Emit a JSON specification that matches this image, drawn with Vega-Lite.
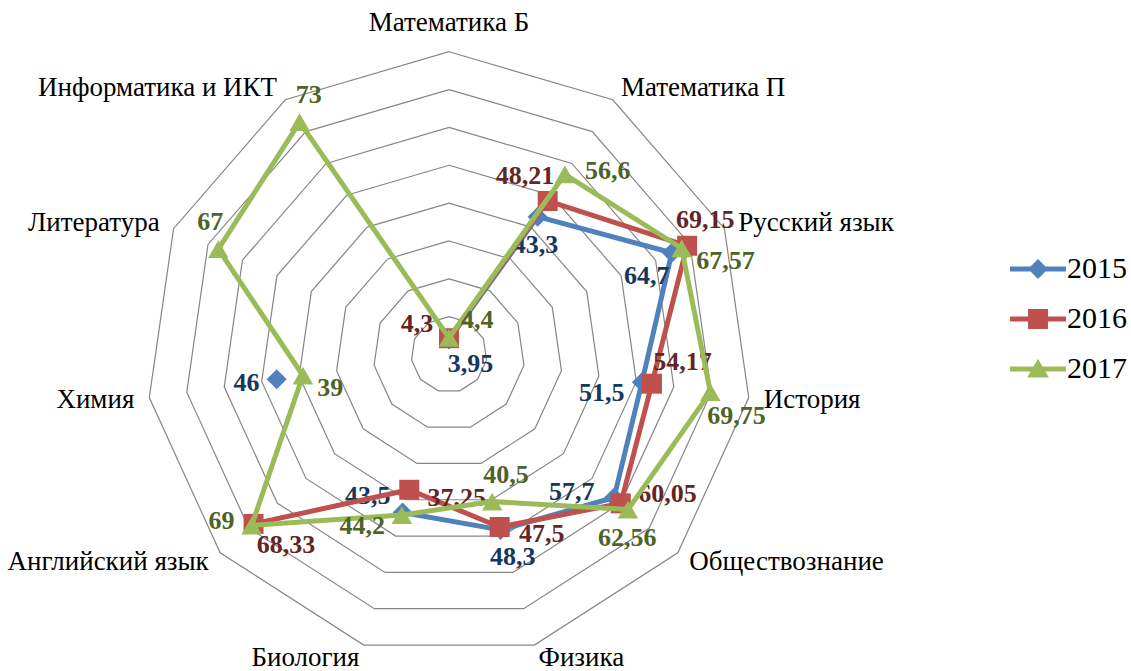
{
  "$schema": "https://vega.github.io/schema/vega-lite/v6.json",
  "width": 1131,
  "height": 671,
  "padding": 0,
  "autosize": {"type": "none"},
  "background": "#FFFFFF",
  "config": {"view": {"stroke": null}, "legend": {"labelFont": "Liberation Serif", "labelFontSize": 30, "labelColor": "#000000"}},
  "datasets": {
    "scores": [
      {"idx": 0, "subject": "Математика Б", "year": 2015, "value": 3.95},
      {"idx": 0, "subject": "Математика Б", "year": 2016, "value": 4.3},
      {"idx": 0, "subject": "Математика Б", "year": 2017, "value": 4.4},
      {"idx": 1, "subject": "Математика П", "year": 2015, "value": 43.3},
      {"idx": 1, "subject": "Математика П", "year": 2016, "value": 48.21},
      {"idx": 1, "subject": "Математика П", "year": 2017, "value": 56.6},
      {"idx": 2, "subject": "Русский язык", "year": 2015, "value": 64.7},
      {"idx": 2, "subject": "Русский язык", "year": 2016, "value": 69.15},
      {"idx": 2, "subject": "Русский язык", "year": 2017, "value": 67.57},
      {"idx": 3, "subject": "История", "year": 2015, "value": 51.5},
      {"idx": 3, "subject": "История", "year": 2016, "value": 54.17},
      {"idx": 3, "subject": "История", "year": 2017, "value": 69.75},
      {"idx": 4, "subject": "Обществознание", "year": 2015, "value": 57.7},
      {"idx": 4, "subject": "Обществознание", "year": 2016, "value": 60.05},
      {"idx": 4, "subject": "Обществознание", "year": 2017, "value": 62.56},
      {"idx": 5, "subject": "Физика", "year": 2015, "value": 48.3},
      {"idx": 5, "subject": "Физика", "year": 2016, "value": 47.5},
      {"idx": 5, "subject": "Физика", "year": 2017, "value": 40.5},
      {"idx": 6, "subject": "Биология", "year": 2015, "value": 43.5},
      {"idx": 6, "subject": "Биология", "year": 2016, "value": 37.25},
      {"idx": 6, "subject": "Биология", "year": 2017, "value": 44.2},
      {"idx": 7, "subject": "Английский язык", "year": 2015, "value": null},
      {"idx": 7, "subject": "Английский язык", "year": 2016, "value": 68.33},
      {"idx": 7, "subject": "Английский язык", "year": 2017, "value": 69},
      {"idx": 8, "subject": "Химия", "year": 2015, "value": 46},
      {"idx": 8, "subject": "Химия", "year": 2016, "value": null},
      {"idx": 8, "subject": "Химия", "year": 2017, "value": 39},
      {"idx": 9, "subject": "Литература", "year": 2015, "value": null},
      {"idx": 9, "subject": "Литература", "year": 2016, "value": null},
      {"idx": 9, "subject": "Литература", "year": 2017, "value": 67},
      {"idx": 10, "subject": "Информатика и ИКТ", "year": 2015, "value": null},
      {"idx": 10, "subject": "Информатика и ИКТ", "year": 2016, "value": null},
      {"idx": 10, "subject": "Информатика и ИКТ", "year": 2017, "value": 73}
    ],
    "rings": [
      {"r": 10, "idx": [0, 1, 2, 3, 4, 5, 6, 7, 8, 9, 10]},
      {"r": 20, "idx": [0, 1, 2, 3, 4, 5, 6, 7, 8, 9, 10]},
      {"r": 30, "idx": [0, 1, 2, 3, 4, 5, 6, 7, 8, 9, 10]},
      {"r": 40, "idx": [0, 1, 2, 3, 4, 5, 6, 7, 8, 9, 10]},
      {"r": 50, "idx": [0, 1, 2, 3, 4, 5, 6, 7, 8, 9, 10]},
      {"r": 60, "idx": [0, 1, 2, 3, 4, 5, 6, 7, 8, 9, 10]},
      {"r": 70, "idx": [0, 1, 2, 3, 4, 5, 6, 7, 8, 9, 10]},
      {"r": 80, "idx": [0, 1, 2, 3, 4, 5, 6, 7, 8, 9, 10]}
    ]
  },
  "layer": [
    {
      "data": {"name": "rings"},
      "transform": [
        {"flatten": ["idx"]},
        {"calculate": "datum.idx * 2 * PI / 11", "as": "theta"},
        {"calculate": "datum.r * sin(datum.theta)", "as": "px"},
        {"calculate": "datum.r * cos(datum.theta)", "as": "py"}
      ],
      "mark": {"type": "line", "interpolate": "linear-closed", "color": "#868686", "strokeWidth": 1.2},
      "encoding": {
        "x": {"field": "px", "type": "quantitative", "scale": {"domain": [-118.63, 180.18], "nice": false, "zero": false}, "axis": null},
        "y": {"field": "py", "type": "quantitative", "scale": {"domain": [-83.62, 93.66], "nice": false, "zero": false}, "axis": null},
        "detail": {"field": "r", "type": "nominal"},
        "order": {"field": "idx", "type": "quantitative"}
      }
    },
    {
      "data": {"name": "scores"},
      "transform": [
        {"filter": "datum.year == 2017"},
        {"calculate": "datum.idx * 2 * PI / 11", "as": "theta"},
        {"calculate": "84 * sin(datum.theta)", "as": "px"},
        {"calculate": "83.6 * cos(datum.theta)", "as": "py"},
        {"filter": "sin(datum.theta) > 0.1"}
      ],
      "mark": {"type": "text", "align": "left", "baseline": "middle", "font": "Liberation Serif", "fontSize": 27, "color": "#000000"},
      "encoding": {
        "x": {"field": "px", "type": "quantitative", "scale": {"domain": [-118.63, 180.18], "nice": false, "zero": false}, "axis": null},
        "y": {"field": "py", "type": "quantitative", "scale": {"domain": [-83.62, 93.66], "nice": false, "zero": false}, "axis": null},
        "text": {"field": "subject"}
      }
    },
    {
      "data": {"name": "scores"},
      "transform": [
        {"filter": "datum.year == 2017"},
        {"calculate": "datum.idx * 2 * PI / 11", "as": "theta"},
        {"calculate": "84 * sin(datum.theta)", "as": "px"},
        {"calculate": "83.6 * cos(datum.theta)", "as": "py"},
        {"filter": "sin(datum.theta) < -0.1"}
      ],
      "mark": {"type": "text", "align": "right", "baseline": "middle", "font": "Liberation Serif", "fontSize": 27, "color": "#000000"},
      "encoding": {
        "x": {"field": "px", "type": "quantitative", "scale": {"domain": [-118.63, 180.18], "nice": false, "zero": false}, "axis": null},
        "y": {"field": "py", "type": "quantitative", "scale": {"domain": [-83.62, 93.66], "nice": false, "zero": false}, "axis": null},
        "text": {"field": "subject"}
      }
    },
    {
      "data": {"name": "scores"},
      "transform": [
        {"filter": "datum.year == 2017 && datum.idx == 0"},
        {"calculate": "84 * sin(0)", "as": "px"},
        {"calculate": "84 * cos(0)", "as": "py"}
      ],
      "mark": {"type": "text", "align": "center", "baseline": "middle", "dy": -14, "font": "Liberation Serif", "fontSize": 27, "color": "#000000"},
      "encoding": {
        "x": {"field": "px", "type": "quantitative", "scale": {"domain": [-118.63, 180.18], "nice": false, "zero": false}, "axis": null},
        "y": {"field": "py", "type": "quantitative", "scale": {"domain": [-83.62, 93.66], "nice": false, "zero": false}, "axis": null},
        "text": {"field": "subject"}
      }
    },
    {
      "data": {"name": "scores"},
      "transform": [
        {"joinaggregate": [{"op": "max", "field": "value", "as": "vmax"}, {"op": "min", "field": "value", "as": "vmin"}], "groupby": ["idx"]},
        {"filter": "datum.year == 2015"},
        {"calculate": "datum.idx * 2 * PI / 11", "as": "theta"},
        {"calculate": "datum.value == null ? null : datum.value * sin(datum.theta)", "as": "px"},
        {"calculate": "datum.value == null ? null : datum.value * cos(datum.theta)", "as": "py"}
      ],
      "encoding": {
        "x": {"field": "px", "type": "quantitative", "scale": {"domain": [-118.63, 180.18], "nice": false, "zero": false}, "axis": null},
        "y": {"field": "py", "type": "quantitative", "scale": {"domain": [-83.62, 93.66], "nice": false, "zero": false}, "axis": null}
      },
      "layer": [
        {"mark": {"type": "line", "color": "#4F81BD", "strokeWidth": 5, "strokeJoin": "round", "strokeCap": "round"},
         "encoding": {"order": {"field": "idx", "type": "quantitative"}}},
        {"transform": [{"filter": "datum.value != null"}],
         "mark": {"type": "point", "shape": "diamond", "filled": true, "color": "#4F81BD", "size": 400, "opacity": 1}},
        {"transform": [
          {"filter": "datum.value != null"},
          {"calculate": "replace(toString(datum.value), '.', ',')", "as": "label"},
          {"calculate": "datum.theta + (datum.value == datum.vmax ? 0 : datum.value == datum.vmin ? 2.618 : 1.92)", "as": "phi"},
          {"calculate": "datum.px + sin(datum.phi) * (length(datum.label) * 6.3 + 18) / 3.785", "as": "lx"},
          {"calculate": "datum.py + cos(datum.phi) * 7.4", "as": "ly"}
         ],
         "mark": {"type": "text", "align": "center", "baseline": "middle", "font": "Liberation Serif", "fontWeight": "bold", "fontSize": 26, "color": "#17365D"},
         "encoding": {
           "x": {"field": "lx", "type": "quantitative", "scale": {"domain": [-118.63, 180.18], "nice": false, "zero": false}, "axis": null},
           "y": {"field": "ly", "type": "quantitative", "scale": {"domain": [-83.62, 93.66], "nice": false, "zero": false}, "axis": null},
           "text": {"field": "label"}
         }}
      ]
    },
    {
      "data": {"name": "scores"},
      "transform": [
        {"joinaggregate": [{"op": "max", "field": "value", "as": "vmax"}, {"op": "min", "field": "value", "as": "vmin"}], "groupby": ["idx"]},
        {"filter": "datum.year == 2016"},
        {"calculate": "datum.idx * 2 * PI / 11", "as": "theta"},
        {"calculate": "datum.value == null ? null : datum.value * sin(datum.theta)", "as": "px"},
        {"calculate": "datum.value == null ? null : datum.value * cos(datum.theta)", "as": "py"}
      ],
      "encoding": {
        "x": {"field": "px", "type": "quantitative", "scale": {"domain": [-118.63, 180.18], "nice": false, "zero": false}, "axis": null},
        "y": {"field": "py", "type": "quantitative", "scale": {"domain": [-83.62, 93.66], "nice": false, "zero": false}, "axis": null}
      },
      "layer": [
        {"mark": {"type": "line", "color": "#C0504D", "strokeWidth": 5, "strokeJoin": "round", "strokeCap": "round"},
         "encoding": {"order": {"field": "idx", "type": "quantitative"}}},
        {"transform": [{"filter": "datum.value != null"}],
         "mark": {"type": "point", "shape": "square", "filled": true, "color": "#C0504D", "size": 400, "opacity": 1}},
        {"transform": [
          {"filter": "datum.value != null"},
          {"calculate": "replace(toString(datum.value), '.', ',')", "as": "label"},
          {"calculate": "datum.theta + (datum.value == datum.vmax ? -0.768 : datum.value == datum.vmin ? 4.712 : -1.047)", "as": "phi"},
          {"calculate": "datum.px + sin(datum.phi) * (length(datum.label) * 6.3 + 18) / 3.785", "as": "lx"},
          {"calculate": "datum.py + cos(datum.phi) * 7.4", "as": "ly"}
         ],
         "mark": {"type": "text", "align": "center", "baseline": "middle", "font": "Liberation Serif", "fontWeight": "bold", "fontSize": 26, "color": "#632523"},
         "encoding": {
           "x": {"field": "lx", "type": "quantitative", "scale": {"domain": [-118.63, 180.18], "nice": false, "zero": false}, "axis": null},
           "y": {"field": "ly", "type": "quantitative", "scale": {"domain": [-83.62, 93.66], "nice": false, "zero": false}, "axis": null},
           "text": {"field": "label"}
         }}
      ]
    },
    {
      "data": {"name": "scores"},
      "transform": [
        {"joinaggregate": [{"op": "max", "field": "value", "as": "vmax"}, {"op": "min", "field": "value", "as": "vmin"}], "groupby": ["idx"]},
        {"filter": "datum.year == 2017"},
        {"calculate": "datum.idx * 2 * PI / 11", "as": "theta"},
        {"calculate": "datum.value == null ? null : datum.value * sin(datum.theta)", "as": "px"},
        {"calculate": "datum.value == null ? null : datum.value * cos(datum.theta)", "as": "py"}
      ],
      "encoding": {
        "x": {"field": "px", "type": "quantitative", "scale": {"domain": [-118.63, 180.18], "nice": false, "zero": false}, "axis": null},
        "y": {"field": "py", "type": "quantitative", "scale": {"domain": [-83.62, 93.66], "nice": false, "zero": false}, "axis": null}
      },
      "layer": [
        {"mark": {"type": "line", "interpolate": "linear-closed", "color": "#9BBB59", "strokeWidth": 5, "strokeJoin": "round", "strokeCap": "round"},
         "encoding": {"order": {"field": "idx", "type": "quantitative"}}},
        {"transform": [{"filter": "datum.value != null"}],
         "mark": {"type": "point", "shape": "triangle-up", "filled": true, "color": "#9BBB59", "size": 420, "opacity": 1}},
        {"transform": [
          {"filter": "datum.value != null"},
          {"calculate": "replace(toString(datum.value), '.', ',')", "as": "label"},
          {"calculate": "datum.theta + (datum.value == datum.vmax ? 0.873 : datum.value == datum.vmin ? 3.752 : 0.908)", "as": "phi"},
          {"calculate": "datum.px + sin(datum.phi) * (length(datum.label) * 6.3 + 18) / 3.785", "as": "lx"},
          {"calculate": "datum.py + cos(datum.phi) * 7.4", "as": "ly"}
         ],
         "mark": {"type": "text", "align": "center", "baseline": "middle", "font": "Liberation Serif", "fontWeight": "bold", "fontSize": 26, "color": "#4F6228"},
         "encoding": {
           "x": {"field": "lx", "type": "quantitative", "scale": {"domain": [-118.63, 180.18], "nice": false, "zero": false}, "axis": null},
           "y": {"field": "ly", "type": "quantitative", "scale": {"domain": [-83.62, 93.66], "nice": false, "zero": false}, "axis": null},
           "text": {"field": "label"}
         }}
      ]
    },
    {
      "data": {"name": "scores"},
      "transform": [{"filter": "false"}],
      "mark": {"type": "point", "filled": true, "opacity": 1, "size": 576},
      "encoding": {
        "x": {"field": "idx", "type": "quantitative", "scale": {"domain": [-118.63, 180.18], "nice": false, "zero": false}, "axis": null},
        "y": {"field": "value", "type": "quantitative", "scale": {"domain": [-83.62, 93.66], "nice": false, "zero": false}, "axis": null},
        "color": {
          "field": "year", "type": "nominal",
          "scale": {"domain": [2015, 2016, 2017], "range": ["#4F81BD", "#C0504D", "#9BBB59"]},
          "legend": {"title": null, "orient": "none", "legendX": 1023, "legendY": 254, "padding": 0, "symbolSize": 576, "symbolStrokeWidth": 0, "symbolOpacity": 1, "labelFont": "Liberation Serif", "labelFontSize": 30, "labelColor": "#000000", "labelOffset": 14, "rowPadding": 20}
        },
        "shape": {
          "field": "year", "type": "nominal",
          "scale": {"domain": [2015, 2016, 2017], "range": [
            "M-2.33,-0.21H2.33V0.21H-2.33Z M0,-0.83L0.83,0L0,0.83L-0.83,0Z",
            "M-2.33,-0.21H2.33V0.21H-2.33Z M-0.83,-0.83H0.83V0.83H-0.83Z",
            "M-2.33,-0.21H2.33V0.21H-2.33Z M0,-0.85L0.9,0.7H-0.9Z"
          ]},
          "legend": {"title": null, "orient": "none", "legendX": 1023, "legendY": 254, "padding": 0, "symbolSize": 576, "symbolStrokeWidth": 0, "symbolOpacity": 1, "labelFont": "Liberation Serif", "labelFontSize": 30, "labelColor": "#000000", "labelOffset": 14, "rowPadding": 20}
        }
      }
    }
  ]
}
